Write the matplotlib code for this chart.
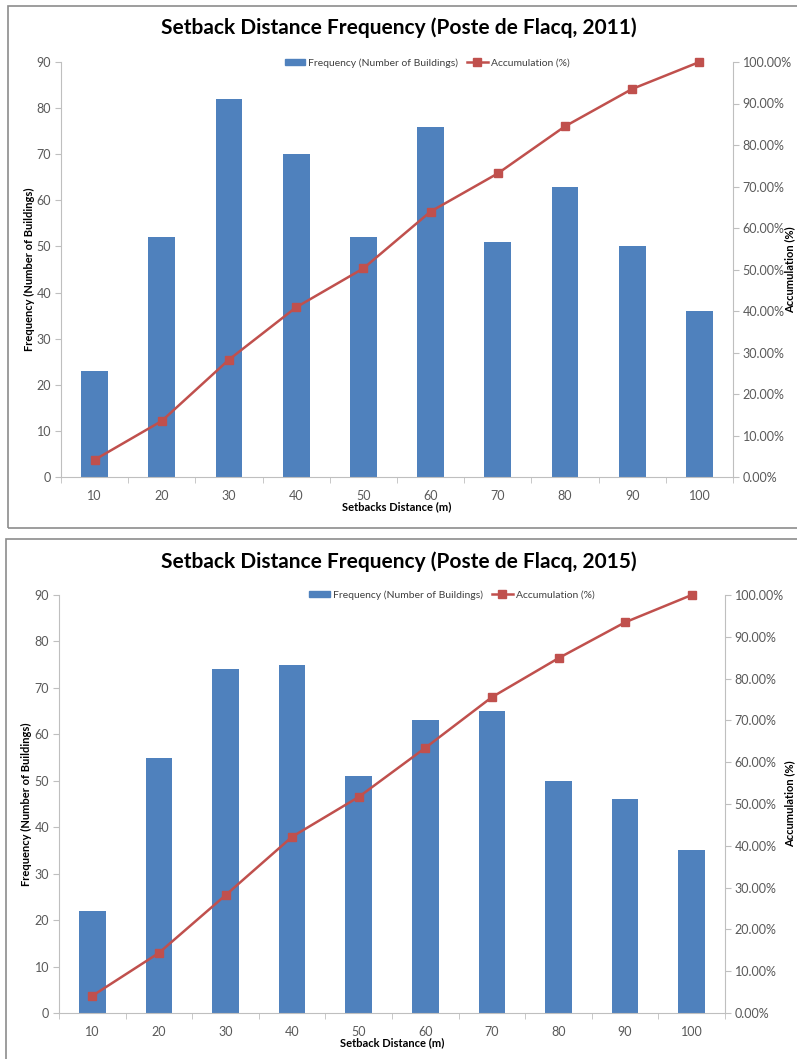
import matplotlib.pyplot as plt
from matplotlib.patches import Rectangle
from matplotlib.lines import Line2D
from matplotlib.ticker import FuncFormatter

plt.rcParams['font.family'] = ['Lato', 'DejaVu Sans']

distances = [10, 20, 30, 40, 50, 60, 70, 80, 90, 100]

freq_2011 = [23, 52, 82, 70, 52, 76, 51, 63, 50, 36]
accum_2011 = [4.14, 13.51, 28.29, 40.90, 50.27, 63.96, 73.15, 84.50, 93.51, 100.0]

freq_2015 = [22, 55, 74, 75, 51, 63, 65, 50, 46, 35]
accum_2015 = [4.10, 14.37, 28.17, 42.16, 51.68, 63.43, 75.56, 84.89, 93.47, 100.0]

bar_color = '#4F81BD'
line_color = '#C0504D'
tick_color = '#595959'
axis_color = '#BFBFBF'

W, H = 797, 1059
fig = plt.figure(figsize=(W / 100, H / 100), dpi=100)


def px(x0, y0, x1, y1):
    # pixel box -> figure fraction [left, bottom, width, height]
    return [x0 / W, 1 - y1 / H, (x1 - x0) / W, (y1 - y0) / H]


def panel(box, ax_box, title, xlabel, freq, accum, title_y, legend_y, legend_x, ylab_x):
    # grey border around the chart area
    b = px(*box)
    fig.patches.append(Rectangle((b[0], b[1]), b[2], b[3], transform=fig.transFigure,
                                 fill=False, edgecolor='#8C8C8C', linewidth=1.2))

    x0, y0, x1, y1 = ax_box
    aw, ah = x1 - x0, y1 - y0
    ax = fig.add_axes(px(*ax_box))
    pos = list(range(len(distances)))
    ax.bar(pos, freq, width=0.4, color=bar_color, zorder=2)
    ax.set_xlim(-0.5, len(distances) - 0.5)
    ax.set_ylim(0, 90)
    ax.set_yticks(range(0, 91, 10))
    ax.set_xticks(pos)
    ax.set_xticklabels([str(d) for d in distances])
    ax.set_xticks([p + 0.5 for p in [-1] + pos], minor=True)
    ax.tick_params(axis='x', which='major', length=0, pad=9, labelsize=9, labelcolor=tick_color)
    ax.tick_params(axis='x', which='minor', length=4, color=axis_color, direction='out')
    ax.tick_params(axis='y', length=4, color=axis_color, labelsize=9, labelcolor=tick_color, pad=3)
    for s in ['top', 'right']:
        ax.spines[s].set_visible(False)
    ax.spines['left'].set_color(axis_color)
    ax.spines['bottom'].set_color(axis_color)
    ax.set_xlabel(xlabel, fontsize=8, fontweight='bold', va='center')
    ax.xaxis.set_label_coords(0.5, -30 / ah)
    ax.set_ylabel('Frequency (Number of Buildings)', fontsize=8, fontweight='bold', va='center')
    ax.yaxis.set_label_coords(-(x0 - ylab_x) / aw, 0.5)

    ax2 = ax.twinx()
    ax2.plot(pos, accum, color=line_color, marker='s', markersize=6, linewidth=1.8,
             zorder=3, clip_on=False)
    ax2.set_ylim(0, 100)
    ax2.set_yticks(range(0, 101, 10))
    ax2.yaxis.set_major_formatter(FuncFormatter(lambda v, p: '%.2f%%' % v))
    ax2.tick_params(axis='y', length=4, color=axis_color, labelsize=9, labelcolor=tick_color, pad=3)
    for s in ['top', 'left', 'bottom']:
        ax2.spines[s].set_visible(False)
    ax2.spines['right'].set_color(axis_color)
    ax2.set_ylabel('Accumulation (%)', fontsize=8, fontweight='bold', va='center')
    ax2.yaxis.set_label_coords(1 + (790 - x1) / aw, 0.5)

    fig.text(0.5, 1 - title_y / H, title, ha='center', va='center',
             fontsize=15, fontweight='bold', color='black')

    handles = [Rectangle((0, 0), 1, 1, color=bar_color),
               Line2D([], [], color=line_color, marker='s', markersize=6, linewidth=1.8)]
    fig.legend(handles, ['Frequency (Number of Buildings)', 'Accumulation (%)'],
               loc='center', bbox_to_anchor=(legend_x / W, 1 - legend_y / H), ncol=2,
               frameon=False, fontsize=7.5, handlelength=2.0, handleheight=0.5,
               columnspacing=0.8, handletextpad=0.3, labelcolor='#404040')


panel((8, 6, 800, 528), (61, 62, 733, 477),
      'Setback Distance Frequency (Poste de Flacq, 2011)', 'Setbacks Distance (m)',
      freq_2011, accum_2011, 28, 63, 427, 29)
panel((6, 539, 800, 1062), (59, 595, 725, 1013),
      'Setback Distance Frequency (Poste de Flacq, 2015)', 'Setback Distance (m)',
      freq_2015, accum_2015, 562, 595, 452, 26)

fig.savefig('out.png', dpi=100, facecolor='white')
